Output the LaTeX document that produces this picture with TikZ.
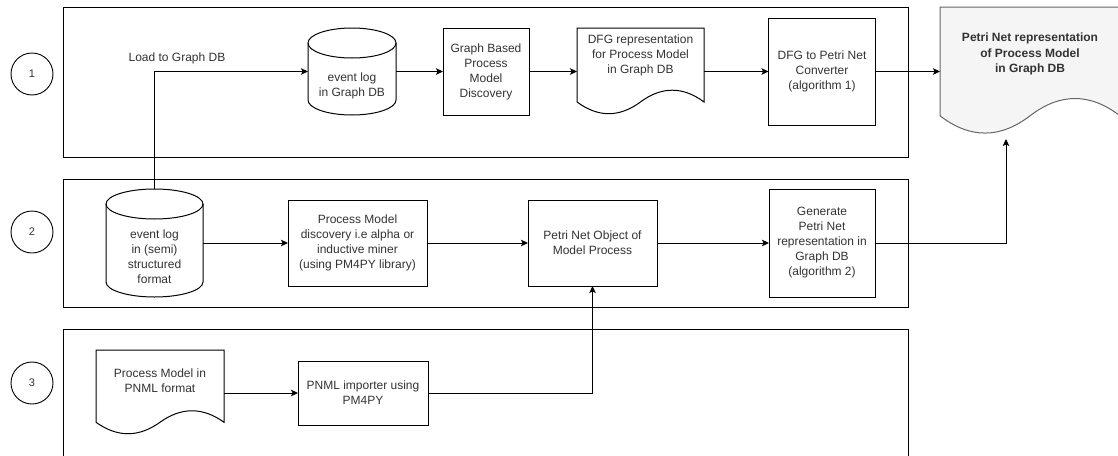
\documentclass[tikz,border=0pt]{standalone}
\usepackage{fontspec}
\setmainfont{Liberation Sans}
\usetikzlibrary{arrows.meta}
\definecolor{txt}{HTML}{333333}
\definecolor{docfill}{HTML}{F5F5F5}
\definecolor{docline}{HTML}{666666}
% cylinder outline: x0, top, w, h
\newcommand\cylshape[4]{%
  \draw[line width=1pt] (#1,{#2+15}) -- (#1,{#2+#4-15})
    .. controls (#1,{#2+#4-15+0.5523*15}) and ({#1+#3/2-0.5523*#3/2},{#2+#4}) .. ({#1+#3/2},{#2+#4})
    .. controls ({#1+#3/2+0.5523*#3/2},{#2+#4}) and ({#1+#3},{#2+#4-15+0.5523*15}) .. ({#1+#3},{#2+#4-15})
    -- ({#1+#3},{#2+15});
  \draw[line width=1pt] ({#1+#3/2},{#2+15}) ellipse[x radius={#3/2}, y radius=15];}
% document outline: [style] x0, top, w, h
\newcommand\docshape[5][]{%
  \draw[line width=1pt,#1] (#2,#3) -- ({#2+#4},#3) -- ({#2+#4},{#3+0.85*#5})
    .. controls ({#2+5*#4/6},{#3+0.67*#5}) and ({#2+2*#4/3},{#3+0.67*#5}) .. ({#2+#4/2},{#3+0.85*#5})
    .. controls ({#2+#4/3},{#3+1.03*#5}) and ({#2+#4/6},{#3+1.03*#5}) .. (#2,{#3+0.85*#5}) -- cycle;}
\begin{document}
\begin{tikzpicture}[x=1pt,y=-1pt,
  font=\fontsize{12}{15}\selectfont,
  ghost/.style={inner sep=0pt, outer sep=0pt},
  box/.style={draw, line width=1pt, align=center, inner sep=0pt, outer sep=0pt, text=txt},
  lbl/.style={align=center, inner sep=0pt, text=txt},
  arr/.style={-{Stealth[length=7pt,width=6.5pt,inset=1.5pt]}, line width=1pt},
  lanebox/.style={draw, line width=1pt, inner sep=0pt, outer sep=0pt},
  num/.style={draw, circle, line width=0.9pt, minimum size=42pt, inner sep=0pt, text=txt, font=\fontsize{11}{13}\selectfont}]
\clip (0,0) rectangle (1118,455);
\fill[white] (0,0) rectangle (1118,455);

% lanes
\node[lanebox, minimum width=845pt, minimum height=150pt] (lane1) at (485.5,82) {};
\node[lanebox, minimum width=845pt, minimum height=128pt] (lane2) at (485.5,243) {};
\node[lanebox, minimum width=845pt, minimum height=151pt] (lane3) at (485.5,404.5) {};

% lane numbers
\node[num] (n1) at (32,74) {1};
\node[num] (n2) at (32,232) {2};
\node[num] (n3) at (32,383) {3};

% row 1
\node[ghost, minimum width=88pt, minimum height=87pt] (cyl1) at (352,71.5) {};
\cylshape{308}{28}{88}{87}
\node[lbl] (cyl1txt) at (352,86) {event log\\in Graph DB};

\node[box, minimum width=86pt, minimum height=87pt] (gbpmd) at (486,71.5) {Graph Based\\Process\\Model\\Discovery};

\node[ghost, minimum width=127pt, minimum height=87pt] (dfg) at (640.5,71.5) {};
\docshape{577}{28}{127}{87}
\node[lbl] (dfgtxt) at (640.5,55) {DFG representation\\for Process Model\\in Graph DB};

\node[box, minimum width=107pt, minimum height=107pt] (conv) at (822,71.5) {DFG to Petri Net\\Converter\\(algorithm 1)};

\node[ghost, minimum width=180pt, minimum height=128pt] (pnet) at (1030,71) {};
\docshape[fill=docfill, draw=docline]{940}{7}{180}{128}
\node[lbl, font=\fontsize{12}{15.5}\selectfont\bfseries] (pnettxt) at (1030,54) {Petri Net representation\\of Process Model\\in Graph DB};

% row 2
\node[ghost, minimum width=97pt, minimum height=108pt] (cyl2) at (154.5,243) {};
\cylshape{106}{189}{97}{108}
\node[lbl] (cyl2txt) at (154.5,257) {event log\\in (semi)\\structured\\format};

\node[box, minimum width=139pt, minimum height=86pt] (pmd) at (357.5,243) {Process Model\\discovery i.e alpha or\\inductive miner\\(using PM4PY library)};
\node[box, minimum width=129pt, minimum height=86pt] (pno) at (592.5,243) {Petri Net Object of\\Model Process};
\node[box, minimum width=106pt, minimum height=108pt] (gen) at (822,243) {Generate\\Petri Net\\representation in\\Graph DB\\(algorithm 2)};

% row 3
\node[ghost, minimum width=128pt, minimum height=85pt] (pnml) at (160,392.5) {};
\docshape{96}{350}{128}{85}
\node[lbl] (pnmltxt) at (160,381) {Process Model in\\PNML format};
\node[box, minimum width=130pt, minimum height=64pt] (imp) at (363,393) {PNML importer using\\PM4PY};

% connectors
\draw[arr] (cyl2.north) -- (cyl2.north |- cyl1.west) -- (cyl1.west);
\node[lbl] (loadlbl) at (177,58) {Load to Graph DB};
\draw[arr] (cyl1.east) -- (gbpmd.west);
\draw[arr] (gbpmd.east) -- (dfg.west);
\draw[arr] (dfg.east) -- (conv.west);
\draw[arr] (conv.east) -- (conv.east -| pnet.west);

\draw[arr] (cyl2.east) -- (pmd.west);
\draw[arr] (pmd.east) -- (pno.west);
\draw[arr] (pno.east) -- (gen.west);
\coordinate (turn) at (1006,243);
\draw[arr] (gen.east) -- (turn) -- ([yshift=-4pt]turn |- pnet.south);

\draw[arr] (pnml.east |- imp.west) -- (imp.west);
\draw[arr] (imp.east) -| (pno.south);
\end{tikzpicture}
\end{document}
